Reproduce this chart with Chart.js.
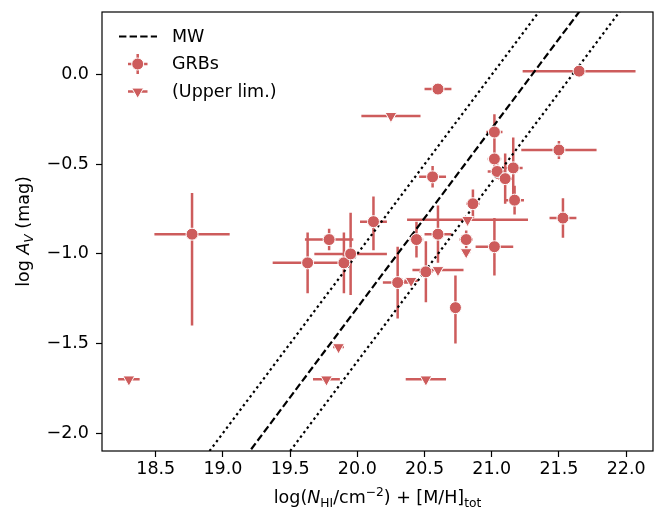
<!DOCTYPE html>
<html>
<head>
<meta charset="utf-8">
<script src="https://cdn.jsdelivr.net/npm/chart.js@4.4.0/dist/chart.umd.min.js"></script>
<style>
  html, body { margin: 0; padding: 0; background: #fff; }
  #wrap { width: 664px; height: 513px; position: relative; }
</style>
</head>
<body>
<div id="wrap"><canvas id="chart"></canvas></div>
<script>
// GRB detections: log N_HI + [M/H]_tot vs log A_V
const grbX      = [21.65, 20.60, 21.02, 21.50, 21.02, 21.04, 21.16, 21.10, 21.17, 20.56, 21.53, 20.86,
                   20.12, 19.79, 19.63, 19.90, 19.95, 20.30, 20.51, 20.60, 20.44, 20.81, 21.02, 20.73, 18.77];
const grbY      = [0.02, -0.08, -0.32, -0.42, -0.47, -0.54, -0.52, -0.58, -0.70, -0.57, -0.80, -0.72,
                   -0.82, -0.92, -1.05, -1.05, -1.00, -1.16, -1.10, -0.89, -0.92, -0.92, -0.96, -1.30, -0.89];
const grbXErr   = [0.42, 0.10, 0.06, 0.28, 0.05, 0.07, 0.07, 0.05, 0.07, 0.10, 0.10, 0.05,
                   0.10, 0.18, 0.26, 0.05, 0.27, 0.11, 0.05, 0.10, 0.05, 0.05, 0.14, 0.02, 0.28];
const grbYErrLo = [0.02, 0.02, 0.10, 0.05, 0.05, 0.04, 0.17, 0.14, 0.08, 0.06, 0.11, 0.08,
                   0.16, 0.06, 0.17, 0.17, 0.23, 0.20, 0.17, 0.16, 0.10, 0.05, 0.16, 0.20, 0.51];
const grbYErrHi = [0.02, 0.02, 0.10, 0.05, 0.05, 0.04, 0.17, 0.14, 0.08, 0.06, 0.11, 0.08,
                   0.14, 0.06, 0.17, 0.17, 0.23, 0.20, 0.17, 0.16, 0.10, 0.05, 0.16, 0.18, 0.23];

// upper limits on A_V
const limX    = [20.25, 18.30, 19.77, 20.51, 19.86, 20.82, 20.81, 20.60, 20.40];
const limY    = [-0.23, -1.70, -1.70, -1.70, -1.52, -0.81, -0.99, -1.09, -1.15];
const limXErr = [0.22, 0.08, 0.10, 0.15, 0.04, 0.45, 0.03, 0.19, 0.05];

// Milky Way relation and +/-0.3 dex band
const mwX      = [18.5, 22.0];
const mwY      = [-2.8, 0.7];
const mwUpperY = [-2.5, 1.0];
const mwLowerY = [-3.1, 0.4];

const xTicks = [18.5, 19.0, 19.5, 20.0, 20.5, 21.0, 21.5, 22.0];
const yTicks = [-2.0, -1.5, -1.0, -0.5, 0.0];

const RED = '#cd5c5c';
const FONT = '"DejaVu Sans", sans-serif';
const FS = 17.5;

const pts = (xs, ys) => xs.map((v, i) => ({ x: v, y: ys[i] }));
const fmt = v => v.toFixed(1).replace('-', '\u2212');

// error bars are drawn under the markers
const errorBars = {
  id: 'errorBars',
  beforeDatasetsDraw(chart) {
    const { ctx, chartArea: a, scales: { x, y } } = chart;
    ctx.save();
    ctx.beginPath();
    ctx.rect(a.left, a.top, a.right - a.left, a.bottom - a.top);
    ctx.clip();
    ctx.strokeStyle = RED;
    ctx.lineWidth = 2.5;
    ctx.lineCap = 'butt';
    ctx.beginPath();
    grbX.forEach((v, i) => {
      const px = x.getPixelForValue(v), py = y.getPixelForValue(grbY[i]);
      ctx.moveTo(x.getPixelForValue(v - grbXErr[i]), py);
      ctx.lineTo(x.getPixelForValue(v + grbXErr[i]), py);
      ctx.moveTo(px, y.getPixelForValue(grbY[i] - grbYErrLo[i]));
      ctx.lineTo(px, y.getPixelForValue(grbY[i] + grbYErrHi[i]));
    });
    limX.forEach((v, i) => {
      const py = y.getPixelForValue(limY[i]);
      ctx.moveTo(x.getPixelForValue(v - limXErr[i]), py);
      ctx.lineTo(x.getPixelForValue(v + limXErr[i]), py);
    });
    ctx.stroke();
    ctx.restore();
  }
};

// text with italic / sub / superscript pieces
function richWidth(ctx, parts) {
  let w = 0;
  parts.forEach(p => {
    const s = p.sub || p.sup ? FS * 0.7 : FS;
    ctx.font = (p.it ? 'italic ' : '') + s + 'px ' + FONT;
    w += ctx.measureText(p.t).width;
  });
  return w;
}
function drawRich(ctx, parts, x, y) {
  parts.forEach(p => {
    const s = p.sub || p.sup ? FS * 0.7 : FS;
    ctx.font = (p.it ? 'italic ' : '') + s + 'px ' + FONT;
    const dy = p.sub ? FS * 0.22 : p.sup ? -FS * 0.42 : 0;
    ctx.fillText(p.t, x, y + dy);
    x += ctx.measureText(p.t).width;
  });
}

const decorations = {
  id: 'decorations',
  afterDraw(chart) {
    const { ctx, chartArea: a } = chart;
    ctx.save();
    // frame
    ctx.strokeStyle = '#000';
    ctx.lineWidth = 1.2;
    ctx.strokeRect(a.left, a.top, a.right - a.left, a.bottom - a.top);

    ctx.fillStyle = '#000';
    ctx.textBaseline = 'alphabetic';
    ctx.textAlign = 'left';

    // x title
    const xt = [
      { t: 'log(' }, { t: 'N', it: true }, { t: 'HI', sub: true }, { t: '/cm' },
      { t: '\u22122', sup: true }, { t: ') + [M/H]' }, { t: 'tot', sub: true }
    ];
    const xw = richWidth(ctx, xt);
    drawRich(ctx, xt, (a.left + a.right) / 2 - xw / 2, 503);

    // y title
    const yt = [{ t: 'log ' }, { t: 'A', it: true }, { t: 'V', it: true, sub: true }, { t: ' (mag)' }];
    const yw = richWidth(ctx, yt);
    ctx.save();
    ctx.translate(29, (a.top + a.bottom) / 2);
    ctx.rotate(-Math.PI / 2);
    drawRich(ctx, yt, -yw / 2, 0);
    ctx.restore();

    // legend
    ctx.font = FS + 'px ' + FONT;
    ctx.textBaseline = 'middle';
    ctx.strokeStyle = '#000';
    ctx.lineWidth = 2.2;
    ctx.setLineDash([7.4, 3.2]);
    ctx.beginPath();
    ctx.moveTo(119, 36.5);
    ctx.lineTo(157, 36.5);
    ctx.stroke();
    ctx.setLineDash([]);
    ctx.fillText('MW', 172, 37);

    ctx.strokeStyle = RED;
    ctx.lineWidth = 2.5;
    ctx.beginPath();
    ctx.moveTo(128, 64); ctx.lineTo(147.5, 64);
    ctx.moveTo(137.7, 54); ctx.lineTo(137.7, 74);
    ctx.moveTo(128, 91.5); ctx.lineTo(147.5, 91.5);
    ctx.stroke();
    ctx.fillStyle = RED;
    ctx.strokeStyle = '#fff';
    ctx.lineWidth = 1;
    ctx.beginPath();
    ctx.arc(137.7, 64, 6, 0, Math.PI * 2);
    ctx.fill(); ctx.stroke();
    ctx.beginPath();
    ctx.moveTo(137.7, 91.5 + 6.8);
    ctx.lineTo(137.7 - 5.9, 91.5 - 3.4);
    ctx.lineTo(137.7 + 5.9, 91.5 - 3.4);
    ctx.closePath();
    ctx.fill(); ctx.stroke();
    ctx.fillStyle = '#000';
    ctx.fillText('GRBs', 172, 64.5);
    ctx.fillText('(Upper lim.)', 172, 92);
    ctx.restore();
  }
};

const tickFont = { family: FONT, size: FS };
const lineStyle = (data, dash) => ({
  type: 'line',
  data: data,
  borderColor: '#000',
  borderWidth: 2.2,
  borderDash: dash,
  pointRadius: 0,
  showLine: true,
  clip: 0,
  order: 2
});

new Chart(document.getElementById('chart'), {
  type: 'scatter',
  data: {
    datasets: [
      {
        label: 'GRBs',
        data: pts(grbX, grbY),
        pointStyle: 'circle',
        pointRadius: 6,
        pointBackgroundColor: RED,
        pointBorderColor: '#fff',
        pointBorderWidth: 1,
        order: 0
      },
      {
        label: '(Upper lim.)',
        data: pts(limX, limY),
        pointStyle: 'triangle',
        rotation: 180,
        pointRadius: 6.8,
        pointBackgroundColor: RED,
        pointBorderColor: '#fff',
        pointBorderWidth: 1,
        order: 0
      },
      Object.assign({ label: 'MW' }, lineStyle(pts(mwX, mwY), [7.4, 3.2])),
      Object.assign({ label: 'MW upper' }, lineStyle(pts(mwX, mwUpperY), [2.4, 3.2])),
      Object.assign({ label: 'MW lower' }, lineStyle(pts(mwX, mwLowerY), [2.4, 3.2]))
    ]
  },
  options: {
    responsive: true,
    maintainAspectRatio: false,
    animation: false,
    layout: { padding: { left: 0, top: 12, right: 11, bottom: 0 } },
    plugins: { legend: { display: false }, tooltip: { enabled: false } },
    scales: {
      x: {
        type: 'linear',
        min: 18.1,
        max: 22.2,
        afterBuildTicks: s => { s.ticks = xTicks.map(v => ({ value: v })); },
        afterFit: s => { s.height = 62; s.paddingLeft = 0; s.paddingRight = 0; },
        grid: { display: true, drawOnChartArea: false, drawTicks: true, tickLength: 6, tickWidth: 1.2, tickColor: '#000' },
        border: { display: false },
        ticks: { font: tickFont, color: '#000', padding: 2, maxRotation: 0, callback: v => fmt(v) }
      },
      y: {
        type: 'linear',
        min: -2.1,
        max: 0.35,
        afterBuildTicks: s => { s.ticks = yTicks.map(v => ({ value: v })); },
        afterFit: s => { s.width = 102; s.paddingTop = 0; s.paddingBottom = 0; },
        grid: { display: true, drawOnChartArea: false, drawTicks: true, tickLength: 6, tickWidth: 1.2, tickColor: '#000' },
        border: { display: false },
        ticks: { font: tickFont, color: '#000', padding: 7, callback: v => fmt(v) }
      }
    }
  },
  plugins: [errorBars, decorations]
});
</script>
</body>
</html>
